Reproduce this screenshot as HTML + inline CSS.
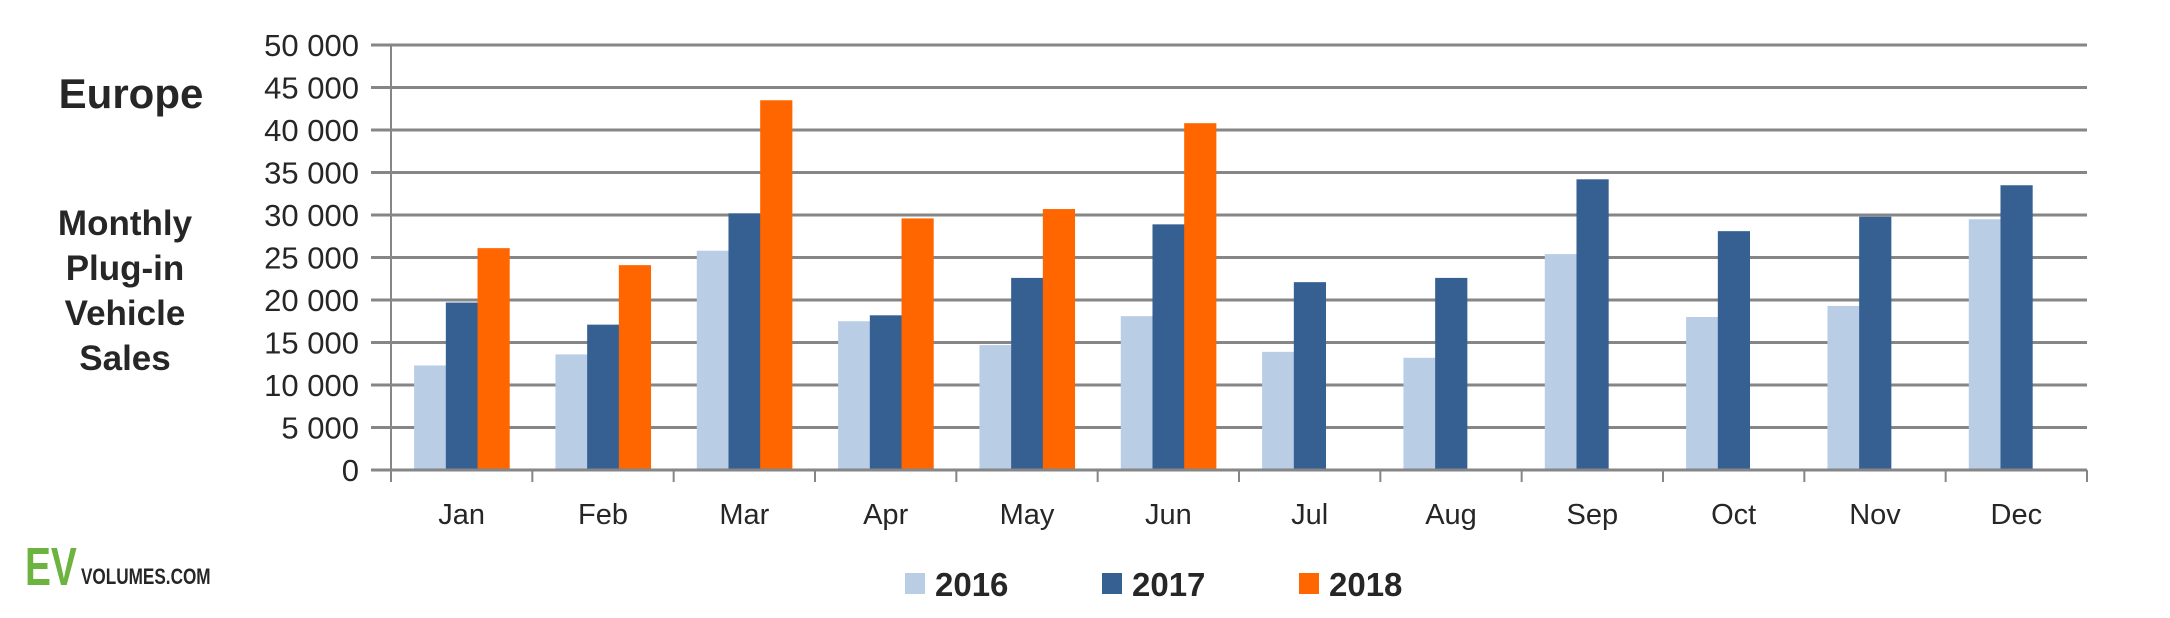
<!DOCTYPE html>
<html><head><meta charset="utf-8"><style>
body{margin:0;background:#fff;width:2170px;height:618px;overflow:hidden}
svg{display:block;font-family:"Liberation Sans",sans-serif}
</style></head><body>
<svg id="chart" width="2170" height="618" viewBox="0 0 2170 618">
<text x="131" y="108" font-size="42" font-weight="bold" fill="#262626" text-anchor="middle">Europe</text>
<g font-size="35" font-weight="bold" fill="#262626" text-anchor="middle">
<text x="125" y="235">Monthly</text><text x="125" y="280">Plug-in</text><text x="125" y="325">Vehicle</text><text x="125" y="370">Sales</text>
</g>
<g>
<text x="25" y="585" font-size="54" font-weight="bold" fill="#6cb33f" transform="translate(25 0) scale(0.72 1) translate(-25 0)">EV</text>
<text x="81" y="584" font-size="22" font-weight="bold" fill="#262626" transform="translate(81 0) scale(0.78 1) translate(-81 0)">VOLUMES.COM</text>
</g>
<g id="grid"></g><g id="bars"></g><g id="axes"></g>
<g font-size="33" font-weight="bold" fill="#262626">
<rect x="905" y="573" width="20" height="21" fill="#b9cde5"/><text x="935" y="596">2016</text>
<rect x="1102" y="573" width="20" height="21" fill="#366092"/><text x="1132" y="596">2017</text>
<rect x="1299" y="573" width="20" height="21" fill="#ff6600"/><text x="1329" y="596">2018</text>
</g>
</svg>
<script>
const categories=["Jan","Feb","Mar","Apr","May","Jun","Jul","Aug","Sep","Oct","Nov","Dec"];
const sales2016=[12300,13600,25800,17500,14700,18100,13900,13200,25400,18000,19300,29500];
const sales2017=[19700,17100,30200,18200,22600,28900,22100,22600,34200,28100,29800,33500];
const sales2018=[26100,24100,43500,29600,30700,40800,null,null,null,null,null,null];
const yTicks=[0,5000,10000,15000,20000,25000,30000,35000,40000,45000,50000];
const yTickLabels=["0","5 000","10 000","15 000","20 000","25 000","30 000","35 000","40 000","45 000","50 000"];

const NS="http://www.w3.org/2000/svg";
const L=391,R=2087,T=45,B=470,YMAX=50000;
const cw=(R-L)/categories.length, bw=31.7, pad=(cw-3*bw)/2;
const y=v=>B-(v/YMAX)*(B-T);
const x=(i,s)=>L+i*cw+pad+s*bw;
function mk(tag,attrs,parent){const e=document.createElementNS(NS,tag);for(const k in attrs)e.setAttribute(k,attrs[k]);parent.appendChild(e);return e;}
const grid=document.getElementById('grid'),bars=document.getElementById('bars'),axes=document.getElementById('axes');
yTicks.forEach((t,i)=>{
  const g=mk('line',{x1:L-20,x2:R,y1:y(t),y2:y(t),stroke:'#868686','stroke-width':3},grid);
  
  
  const tx=mk('text',{x:359,y:y(t)+11,'font-size':31,fill:'#262626','text-anchor':'end'},axes);
  tx.textContent=yTickLabels[i];
  
  
});
const series=[[sales2016,'#b9cde5','2016'],[sales2017,'#366092','2017'],[sales2018,'#ff6600','2018']];
categories.forEach((c,i)=>{
  series.forEach(([arr,col,yr],s)=>{
    const v=arr[i]; if(v==null)return;
    const r=mk('rect',{x:x(i,s),y:y(v),width:bw+0.5,height:B-y(v),fill:col},bars);
    
    
  });
  const tx=mk('text',{x:L+(i+0.5)*cw,y:524,'font-size':29,fill:'#262626','text-anchor':'middle'},axes);
  tx.textContent=c;
  
  
});
for(let i=0;i<=categories.length;i++){
  const tk=mk('line',{x1:L+i*cw,x2:L+i*cw,y1:B,y2:B+12,stroke:'#868686','stroke-width':2},axes);
  
  
}
const ya=mk('line',{x1:L,x2:L,y1:T,y2:B+12,stroke:'#868686','stroke-width':2},axes);


const xa=mk('line',{x1:L,x2:R,y1:B,y2:B,stroke:'#868686','stroke-width':3},axes);


</script>
</body></html>
